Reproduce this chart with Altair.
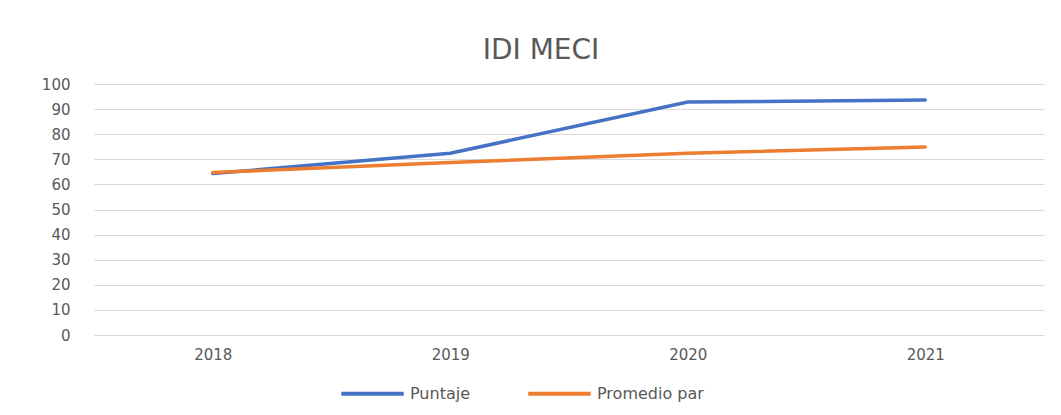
import altair as alt
import pandas as pd

years = ["2018", "2019", "2020", "2021"]
puntaje = [64.3, 72.4, 92.8, 93.6]
promedio = [64.7, 68.7, 72.4, 74.9]
series_names = ["Puntaje", "Promedio par"]
colors = ["#4472C4", "#ED7D31"]
y_ticks = list(range(0, 101, 10))

rows = []
for y, v in zip(years, puntaje):
    rows.append({"year": y, "serie": series_names[0], "value": v})
for y, v in zip(years, promedio):
    rows.append({"year": y, "serie": series_names[1], "value": v})
df = pd.DataFrame(rows)

FONT = "DejaVu Sans"
GRAY = "#595959"

chart = alt.Chart(df).mark_line(strokeWidth=3.5, strokeCap="round").encode(
    x=alt.X("year:O", sort=years, title=None,
            scale=alt.Scale(type="point", padding=0.5),
            axis=alt.Axis(labelAngle=0, ticks=False, domain=False, grid=False,
                          labelFont=FONT, labelFontSize=15, labelColor=GRAY,
                          labelPadding=12)),
    y=alt.Y("value:Q", title=None,
            scale=alt.Scale(domain=[0, 100], nice=False, zero=True),
            axis=alt.Axis(values=y_ticks, ticks=False, domain=False, grid=True,
                          gridColor="#D9D9D9", gridWidth=1,
                          labelFont=FONT, labelFontSize=15, labelColor=GRAY,
                          labelPadding=24)),
    color=alt.Color("serie:N", sort=series_names, title=None,
                    scale=alt.Scale(domain=series_names, range=colors),
                    legend=alt.Legend(orient="none", direction="horizontal",
                                      legendX=245, legendY=276,
                                      symbolType="stroke", symbolSize=3900,
                                      symbolStrokeWidth=4, labelOffset=4,
                                      columnPadding=49,
                                      labelFont=FONT, labelFontSize=16,
                                      labelColor=GRAY)),
).properties(
    width=950,
    height=251,
    background="white",
    title=alt.TitleParams("IDI MECI", font=FONT, fontSize=28, fontWeight="normal",
                          color=GRAY, anchor="middle", dx=-28, offset=12),
    autosize=alt.AutoSizeParams(type="none"),
    padding={"left": 86, "top": 76, "right": 9, "bottom": 72},
).configure_view(stroke="transparent", strokeOpacity=0)

chart.save("out.html", embed_options={"renderer": "svg", "actions": False})
